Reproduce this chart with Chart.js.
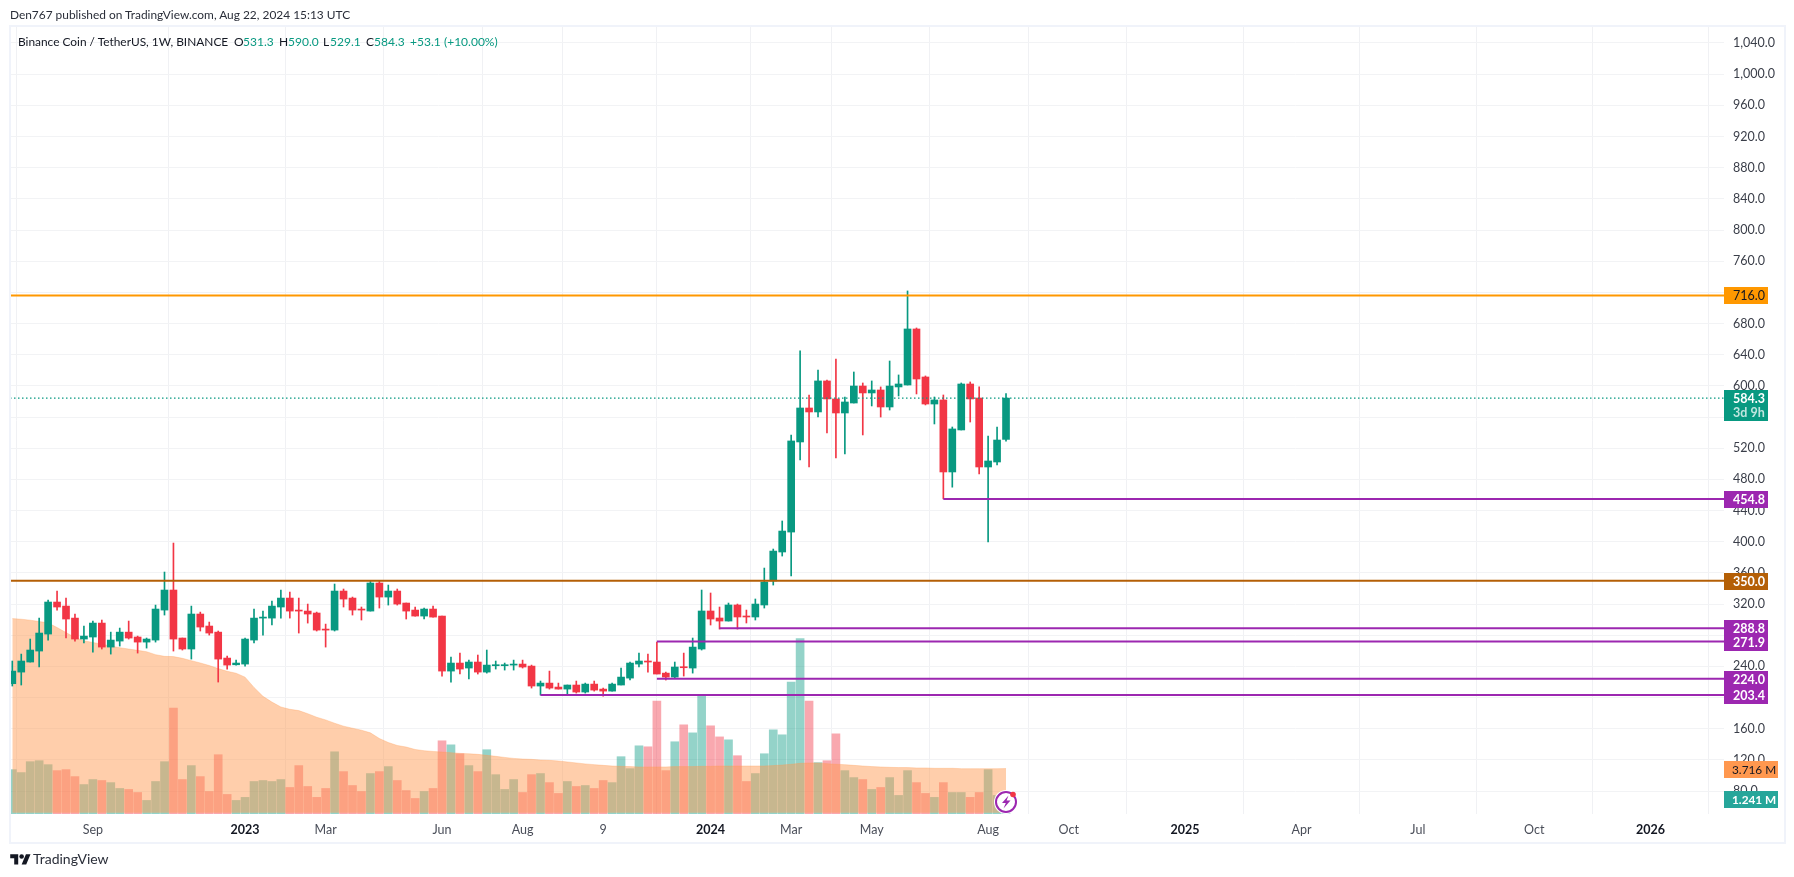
<!DOCTYPE html>
<html><head><meta charset="utf-8">
<script src="https://cdn.jsdelivr.net/npm/chart.js@4"></script>
<style>
html,body{margin:0;padding:0;background:#fff;width:1794px;height:877px;overflow:hidden;font-family:"Lato",sans-serif;color:#131722}
#c{position:absolute;left:0;top:0}
#frame{position:absolute;left:9px;top:25px;width:1773px;height:815px;border:2px solid #f0f3fa;pointer-events:none}
.t{position:absolute;font-size:12px;line-height:16px;white-space:nowrap}
.g{color:#089981}
</style></head><body>
<canvas id="c" width="1794" height="877"></canvas>
<div id="frame"></div>
<div class="t" style="left:10px;top:7px;color:#2a2e39;font-size:11.9px">Den767 published on TradingView.com, Aug 22, 2024 15:13 UTC</div>
<div class="t" style="left:18px;top:34px;font-size:11.9px">Binance Coin / TetherUS, 1W, BINANCE</div>
<div class="t" style="left:234px;top:34px">O</div><div class="t g" style="left:243px;top:34px">531.3</div>
<div class="t" style="left:279px;top:34px">H</div><div class="t g" style="left:288px;top:34px">590.0</div>
<div class="t" style="left:323px;top:34px">L</div><div class="t g" style="left:330px;top:34px">529.1</div>
<div class="t" style="left:366px;top:34px">C</div><div class="t g" style="left:374px;top:34px">584.3</div>
<div class="t g" style="left:410px;top:34px">+53.1</div><div class="t g" style="left:444px;top:34px">(+10.00%)</div>
<svg style="position:absolute;left:10px;top:852px" width="21" height="16" viewBox="0 0 36 28"><path fill="#131722" d="M14 22H7V11H0V4h14v18zM28 22h-8l7.5-18h8L28 22z"/><circle fill="#131722" cx="20" cy="8" r="4"/></svg>
<div class="t" style="left:33px;top:850px;font-size:14px;line-height:18px;color:#2a2e39">TradingView</div>
<svg style="position:absolute;left:993px;top:788px" width="28" height="28" viewBox="0 0 28 28">
<circle cx="13" cy="14" r="12" fill="#fff"/><circle cx="13" cy="14" r="10" fill="none" stroke="#9c27b0" stroke-width="2"/>
<path d="M15.5 7.5 L9 15 H12.8 L10.5 20.5 L17.5 12.6 H13.6 Z" fill="#9c27b0"/>
<circle cx="20" cy="6.5" r="2.8" fill="#f23645"/></svg>
<script>
const opens=[217.8,232.7,245.6,259.7,281.5,322.6,317.4,302,275.1,277.7,
295.6,264.8,272.5,284,277.7,271.2,273.8,312.3,338,276.4,
262.3,307.2,291.8,284,250.7,242.1,243,273.8,302,302,
316.2,327.7,312.3,311,308.5,287.9,286.6,336.7,327.7,313.6,
311,347,329,336.7,321.3,312.3,304.6,313.6,304.6,234,
244.3,237.9,245.6,232.7,240.9,240.9,241.7,243,240.4,214.8,
218.6,213.5,210.9,216.1,207.1,217.3,210.9,208.3,216.1,225,
243,246.9,245.6,231.4,226.3,239.2,237.9,262.3,311.1,302.1,
298.2,318.8,304.6,303.4,318.8,349.6,386.8,412.4,528,571.6,
566.5,606.3,583.2,565.2,578,599.8,590.9,594.7,572.9,598.6,
601.1,673,611.4,576.7,581.9,489.5,543.4,602.4,584.4,495.9,
502.3,531.3];
const closes=[234,246.9,261,282.8,322.6,316.2,300.8,275.1,278.9,295.6,
264.8,273.8,284,276.4,271.2,275.1,313.6,338,275.1,262.3,
307.2,290.5,282.8,249.4,241.7,244.3,275.1,302,303.3,317.4,
327.7,311,311,307.2,286.6,286.6,336.7,326.4,312.3,312.3,
347,329,336.7,320,311,304.6,313.6,303.3,234,244.3,
236.6,245.6,232.7,241.7,242.1,242.1,243,239.2,214.8,218.6,
212.2,210.9,216.1,207.1,217.3,209.6,208.3,217.3,226.3,244.3,
246.9,245.6,230.2,226.3,239.2,238.3,264.8,311.1,300.8,298.2,
318.8,303.4,303.4,320,348.3,388,413.7,529.3,571.6,566.5,
606.3,583.2,565.2,579.3,599.8,590.9,594.7,572.9,599.8,602.4,
673,608.8,576.7,581.9,489.5,544.7,602.4,583.2,495.9,503.6,
530.5,584.3];
const highs=[246.9,255.8,275.1,302,325.1,336.7,327.7,307.2,291.8,298.2,
299.5,284,289.2,298.2,278.9,276.4,318.7,361.1,398.3,276.4,
317.4,309.7,296.9,285.4,253.3,248.1,276.4,313.6,311,323.9,
338,335.4,327.7,320,309.7,294.3,345.7,339.3,329,316.2,
349.5,349.5,344.4,339.3,321.3,316.2,314.9,317.4,304.6,252,
257.1,248.1,254.6,261,246.9,244.3,248.1,248.1,241.7,221.2,
234,218.6,216.1,221.2,218.6,221.2,212.2,218.6,237.9,245.6,
257.1,255.8,271.2,232.7,245.6,257.1,276.4,338,334.2,316.2,
321.3,320,312.3,326.5,366.2,390.6,426.6,537,644.8,588.3,
620.4,607.5,634.5,585.7,617.8,603.7,606.3,598.6,631.9,614,
721.8,674.3,612.7,585.7,588.3,547.2,603.7,605,598.6,535.7,
547.2,590];
const lows=[214.8,216.1,245.6,239.2,273.8,312.3,276.4,272.5,270,258.4,
262.3,255.8,266.1,275.1,257.1,263.5,271.2,305.9,259.7,261,
249.4,285.4,280.2,219.9,236.6,241.7,240.4,270,280.2,293.1,
302,302,282.8,295.6,285.4,264.8,285.4,316.2,305.9,299.5,
311,314.9,318.7,318.7,300.8,304.6,300.8,303.3,227.6,219.9,
230.2,223.8,230.2,231.4,236.6,235.3,235.3,237.9,212.2,203.2,
210.9,210.9,203.2,205.8,205.8,208.3,201.9,208.3,216.1,222.5,
239.2,232.7,230.2,222.5,225,227.6,231.4,261,293.1,287.9,
298.2,287.9,295.7,299.5,314.9,344.4,381.6,356,504.9,495.9,
560,539.5,507.4,512.6,578,537,574.2,560,569,587,
601.1,589.6,575.5,551.1,455,470,543.4,553.6,486.9,399.6,
498.4,529.1];
const volumes=[3.63,3.39,4.28,4.36,4.04,3.55,3.63,3.06,2.41,2.82,
2.74,2.57,2.09,2.01,1.76,1.11,2.66,4.28,8.67,2.82,
3.96,3.06,1.84,4.85,1.6,1.11,1.36,2.66,2.74,2.66,
2.82,2.17,3.96,2.25,1.36,2.09,5.09,3.47,2.33,1.84,
3.31,3.47,3.88,2.74,1.92,1.27,1.84,2.09,5.99,5.66,
4.93,3.96,3.47,5.26,3.22,2.01,2.82,1.76,3.22,3.31,
2.57,1.68,2.66,2.25,2.33,2.09,2.74,2.57,4.69,3.71,
5.58,5.5,9.24,3.55,5.91,7.29,6.64,9.7,7.21,6.31,
6.07,4.77,2.66,3.31,4.93,6.88,6.48,10.79,14.36,9.24,
4.2,4.36,6.56,3.55,2.98,2.82,2.01,2.17,2.98,1.52,
3.55,2.57,1.68,1.36,2.57,1.76,1.76,1.36,1.76,3.63,
1.52,1.241];
const volumeMA=[15.99,15.94,15.86,15.75,15.64,15.26,14.85,14.45,14.18,14.04,
13.9,13.74,13.61,13.5,13.39,13.28,13.04,12.9,12.88,12.74,
12.55,12.36,12.15,11.9,11.68,11.52,11.2,10.36,9.63,9.16,
8.76,8.57,8.46,8.21,7.92,7.7,7.43,7.19,7.02,6.86,
6.64,6.18,5.85,5.61,5.48,5.28,5.18,5.12,5.07,5.02,
4.96,4.93,4.88,4.8,4.72,4.63,4.55,4.5,4.47,4.42,
4.39,4.34,4.26,4.18,4.1,4.04,3.98,3.93,3.9,3.88,
3.85,3.85,3.85,3.85,3.88,3.88,3.88,3.9,3.9,3.93,
3.93,3.93,3.93,3.93,3.93,3.96,4.01,4.07,4.15,4.18,
4.18,4.12,4.07,4.04,3.98,3.93,3.88,3.85,3.82,3.8,
3.8,3.77,3.77,3.74,3.74,3.74,3.71,3.71,3.71,3.71,
3.71,3.716];
const xTickIndex=[9,26,35,48,57,66,78,87,96,109,118,131,144,157,170,183];
const xTickLabels=["Sep","2023","Mar","Jun","Aug","9","2024","Mar","May","Aug","Oct","2025","Apr","Jul","Oct","2026"];
const priceTicks=[80,120,160,200,240,280,320,360,400,440,480,520,560,600,640,680,720,760,800,840,880,920,960,1000,1040];
const coveredPriceLabels=[200,280,720];
const levelValues=[716,454.8,350,288.8,271.9,224,203.4];
const levelStarts=[-0.257,104,-0.257,79,72,72,59];
const levelColors=["#ff9800","#9c27b0","#b45f06","#9c27b0","#9c27b0","#9c27b0","#9c27b0"];
const lastPrice=584.3;

const GREEN="#089981",RED="#f23645";
const xMin=-0.257,xMax=191.2;
const idx=opens.map((_,i)=>i);
const up=idx.map(i=>closes[i]>=opens[i]);
const candleCol=up.map(u=>u?GREEN:RED);
const volCol=up.map(u=>u?"rgba(8,153,129,0.43)":"rgba(242,54,69,0.43)");

const tags=[
 {scale:"y",v:716,text:"716.0",bg:"#ff9800",fg:"#131722"},
 {scale:"y",v:454.8,text:"454.8",bg:"#9c27b0",fg:"#fff"},
 {scale:"y",v:350,text:"350.0",bg:"#b45f06",fg:"#fff"},
 {scale:"y",v:288.8,text:"288.8",bg:"#9c27b0",fg:"#fff"},
 {scale:"y",v:271.9,text:"271.9",bg:"#9c27b0",fg:"#fff"},
 {scale:"y",v:224,text:"224.0",bg:"#9c27b0",fg:"#fff"},
 {scale:"y",v:203.4,text:"203.4",bg:"#9c27b0",fg:"#fff"},
 {scale:"v",v:3.716,text:"3.716 M",bg:"#ff984f",fg:"#131722",w:54},
 {scale:"v",v:1.241,text:"1.241 M",bg:"#26a69a",fg:"#fff",w:54}
];
const tagPlugin={id:"tags",afterDraw(ch){
 const c=ch.ctx,x0=ch.chartArea.right;
 c.save();c.textBaseline="middle";c.textAlign="left";
 for(const t of tags){
  const y=Math.round(ch.scales[t.scale].getPixelForValue(t.v))+0.5;
  c.fillStyle=t.bg;c.fillRect(x0,y-8.5,t.w||44,17);
  c.font=(t.fg==="#fff"?"700 ":"")+(t.w?'11.8px':'12.5px')+' "Lato"';
  c.fillStyle=t.fg;c.fillText(t.text,x0+(t.w?8:9),y+0.5);
 }
 const y=Math.round(ch.scales.y.getPixelForValue(lastPrice));
 c.fillStyle=GREEN;c.fillRect(x0,y-8,44,31);
 c.font='700 12.5px "Lato"';
 c.fillStyle="#fff";c.fillText("584.3",x0+9,y+1);
 c.fillStyle="rgba(255,255,255,0.75)";c.fillText("3d 9h",x0+9,y+15);
 c.restore();
}};

const levelSets=levelValues.map((v,i)=>({type:"line",yAxisID:"y",xAxisID:"x",order:0,
 data:[{x:levelStarts[i],y:v},{x:xMax,y:v}],borderColor:levelColors[i],borderWidth:2,pointRadius:0,tension:0,clip:false}));

new Chart(document.getElementById("c"),{
 type:"bar",
 data:{datasets:[
  ...levelSets,
  {type:"line",order:1,yAxisID:"y",data:[{x:xMin,y:lastPrice},{x:xMax,y:lastPrice}],borderColor:GREEN,borderWidth:1.3,borderDash:[1.5,2.5],pointRadius:0},
  {type:"bar",order:2,grouped:false,yAxisID:"y",data:idx.map(i=>({x:i,y:[opens[i],closes[i]]})),backgroundColor:candleCol,barThickness:7,borderWidth:0,minBarLength:1},
  {type:"bar",order:3,grouped:false,yAxisID:"y",data:idx.map(i=>({x:i,y:[lows[i],highs[i]]})),backgroundColor:candleCol,barThickness:1,borderWidth:0},
  {type:"line",order:4,yAxisID:"v",data:idx.map(i=>({x:i,y:volumeMA[i]})),borderColor:"rgba(255,152,79,0.3)",borderWidth:1,backgroundColor:"rgba(255,152,79,0.48)",fill:{value:0.1},pointRadius:0,tension:0},
  {type:"bar",order:5,grouped:false,yAxisID:"v",data:idx.map(i=>({x:i,y:volumes[i]})),backgroundColor:volCol,barThickness:8,borderWidth:0}
 ]},
 options:{
  responsive:false,animation:false,devicePixelRatio:1,
  layout:{padding:{left:10,top:27,right:10,bottom:35}},
  plugins:{legend:{display:false},tooltip:{enabled:false}},
  scales:{
   x:{type:"linear",min:xMin,max:xMax,offset:false,border:{display:false},
    grid:{color:"#f0f1f4",lineWidth:1,drawTicks:false},
    afterBuildTicks(s){s.ticks=xTickIndex.map(v=>({value:v}));},
    afterFit(s){s.height=28;},
    ticks:{autoSkip:false,maxRotation:0,padding:8,
     callback(v){return xTickLabels[xTickIndex.indexOf(v)];},
     font(ctx){const l=ctx.tick&&xTickLabels[xTickIndex.indexOf(ctx.tick.value)];return {family:'"Lato"',size:12.5,weight:l&&l.length===4?"700":"400"};},
     color(ctx){const l=ctx.tick&&xTickLabels[xTickIndex.indexOf(ctx.tick.value)];return l&&l.length===4?"#131722":"#4a4e59";}}
   },
   y:{type:"linear",position:"right",min:50.6,max:1060.5,border:{display:false},
    grid:{color:"#f2f3f5",lineWidth:1,drawTicks:false},
    afterBuildTicks(s){s.ticks=priceTicks.map(v=>({value:v}));},
    afterFit(s){s.width=60;},
    ticks:{autoSkip:false,padding:9,color:"#3a3e49",font:{family:'"Lato"',size:12.5},
     callback(v){return coveredPriceLabels.includes(v)?"":v.toLocaleString("en-US",{minimumFractionDigits:1,maximumFractionDigits:1});}}
   },
   v:{type:"linear",display:false,position:"left",min:0,max:64.4,grid:{display:false}}
  }
 },
 plugins:[tagPlugin]
});
</script>
</body></html>
